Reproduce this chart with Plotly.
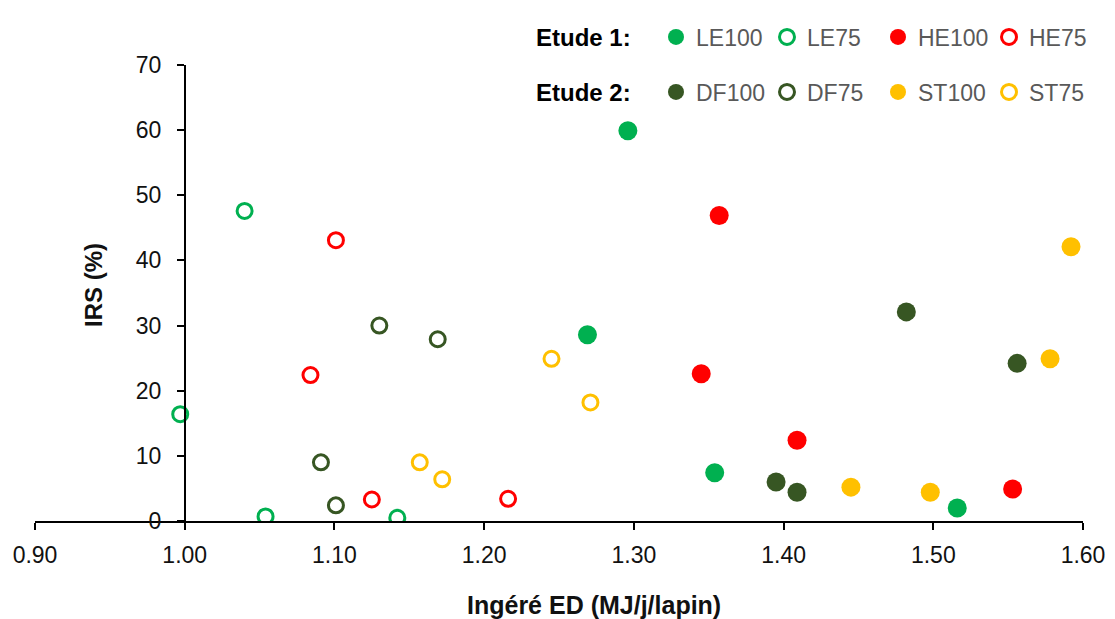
import plotly.graph_objects as go

# Etude 1
le100_x = [1.296, 1.269, 1.354, 1.516]
le100_y = [59.9, 28.6, 7.4, 2.0]
le75_x = [1.040, 0.997, 1.054, 1.142]
le75_y = [47.6, 16.4, 0.7, 0.5]
he100_x = [1.357, 1.345, 1.409, 1.553]
he100_y = [46.9, 22.6, 12.4, 4.9]
he75_x = [1.101, 1.084, 1.125, 1.216]
he75_y = [43.1, 22.4, 3.3, 3.4]

# Etude 2
df100_x = [1.482, 1.556, 1.395, 1.409]
df100_y = [32.1, 24.2, 6.0, 4.4]
df75_x = [1.130, 1.169, 1.091, 1.101]
df75_y = [30.0, 27.9, 9.0, 2.4]
st100_x = [1.592, 1.578, 1.445, 1.498]
st100_y = [42.1, 24.9, 5.2, 4.4]
st75_x = [1.245, 1.271, 1.157, 1.172]
st75_y = [24.9, 18.2, 9.0, 6.4]

x_ticks = [0.90, 1.00, 1.10, 1.20, 1.30, 1.40, 1.50, 1.60]
y_ticks = [0, 10, 20, 30, 40, 50, 60, 70]

GREEN = "#00B050"
RED = "#FF0000"
DARK = "#375623"
GOLD = "#FFC000"

series = [
    ("LE100", le100_x, le100_y, GREEN, True, "legend"),
    ("LE75", le75_x, le75_y, GREEN, False, "legend"),
    ("HE100", he100_x, he100_y, RED, True, "legend"),
    ("HE75", he75_x, he75_y, RED, False, "legend"),
    ("DF100", df100_x, df100_y, DARK, True, "legend2"),
    ("DF75", df75_x, df75_y, DARK, False, "legend2"),
    ("ST100", st100_x, st100_y, GOLD, True, "legend2"),
    ("ST75", st75_x, st75_y, GOLD, False, "legend2"),
]

fig = go.Figure()
for name, xs, ys, col, filled, leg in series:
    if filled:
        marker = dict(symbol="circle", size=19, color=col, line=dict(width=0))
    else:
        marker = dict(symbol="circle-open", size=15, color=col, line=dict(width=3, color=col))
    fig.add_trace(go.Scatter(x=xs, y=ys, mode="markers", name=name,
                             marker=marker, legend=leg))

# the page puts the figure 8px in from the top-left corner
OFF = 8
W, H = 1115, 619
ML, MR, MT, MB = 27, 40, 57, 106


def cx(p):
    return (p - OFF) / W


def cy(p):
    return (H - (p - OFF)) / H


legend_common = dict(
    orientation="h", xref="container", yref="container",
    xanchor="left", yanchor="middle",
    font=dict(family="Liberation Sans, Arial", size=23, color="#595959"),
    bgcolor="rgba(0,0,0,0)", entrywidth=66, itemsizing="trace",
    traceorder="normal",
)

fig.update_layout(
    width=W, height=H,
    margin=dict(l=ML, r=MR, t=MT, b=MB, autoexpand=False),
    plot_bgcolor="white", paper_bgcolor="white",
    font=dict(family="Liberation Sans, Arial", color="black"),
    legend=dict(x=cx(656), y=cy(37), **legend_common),
    legend2=dict(x=cx(656), y=cy(92), **legend_common),
    xaxis=dict(
        domain=[0, 1], range=[0.9, 1.6], tickvals=x_ticks, tickformat=".2f",
        showgrid=False, zeroline=False, showline=True, linecolor="black", linewidth=1.5,
        ticks="outside", ticklen=7, tickwidth=1.5, tickcolor="black", automargin=False,
        tickfont=dict(size=23, color="#111111"), ticklabelstandoff=6,
    ),
    yaxis=dict(
        range=[0, 70], tickvals=y_ticks, anchor="free", position=(1.0 - 0.9) / 0.7,
        showgrid=False, zeroline=False, showline=True, linecolor="black", linewidth=1.5,
        ticks="outside", ticklen=7, tickwidth=1.5, tickcolor="black", automargin=False,
        tickfont=dict(size=23, color="#111111"), ticklabelstandoff=11,
    ),
)

pw = W - ML - MR
ph = H - MT - MB


def px_x(p):
    return (p - OFF - ML) / pw


def px_y(p):
    return (H - MB - (p - OFF)) / ph


fig.add_annotation(text="<b>Ingéré ED (MJ/j/lapin)</b>", xref="paper", yref="paper",
                   x=px_x(594), y=px_y(605), xanchor="center", yanchor="middle",
                   showarrow=False, font=dict(size=25, color="#111111"))
fig.add_annotation(text="<b>IRS (%)</b>", xref="paper", yref="paper", textangle=-90,
                   x=px_x(93), y=px_y(285), xanchor="center", yanchor="middle",
                   showarrow=False, font=dict(size=24, color="#111111"))
fig.add_annotation(text="<b>Etude 1:</b>", xref="paper", yref="paper",
                   x=px_x(534), y=px_y(37), xanchor="left", yanchor="middle",
                   showarrow=False, font=dict(size=24, color="black"))
fig.add_annotation(text="<b>Etude 2:</b>", xref="paper", yref="paper",
                   x=px_x(534), y=px_y(92), xanchor="left", yanchor="middle",
                   showarrow=False, font=dict(size=24, color="black"))

fig.write_html("out.html")
